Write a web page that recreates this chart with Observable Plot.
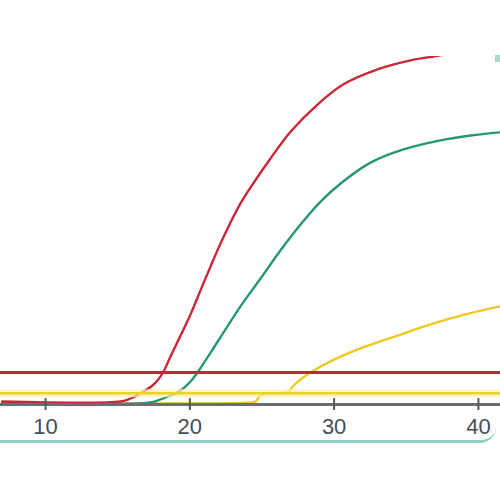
<!DOCTYPE html>
<html>
<head>
<meta charset="utf-8">
<script src="https://cdn.jsdelivr.net/npm/d3@7"></script>
<script src="https://cdn.jsdelivr.net/npm/@observablehq/plot@0.6"></script>
<style>
  html, body { margin: 0; padding: 0; background: #ffffff; }
  #wrap { position: relative; width: 500px; height: 500px; overflow: hidden; }
  #panel { position: absolute; left: -20px; top: 54px; width: 516px; height: 386px;
           border-bottom: 3px solid #93d2c2;
           border-radius: 0 14px 16px 16px; background: #ffffff; }
  #corner { position: absolute; left: 495px; top: 55px; width: 5px; height: 7px; background: #a6dccd; }
  #chart { position: absolute; left: 0; top: 0; }
</style>
</head>
<body>
<div id="wrap"><div id="panel"></div><div id="corner"></div><div id="chart"></div></div>
<script>
// Cycle numbers and fluorescence (relative units)
const redCycles   = [7, 15.2, 15.89, 16.79, 17.41, 17.76, 18.18, 18.66, 19.36, 20.05, 20.74, 21.44, 22.13, 22.82, 23.51, 24.21, 25.59, 26.98, 28.85, 30.65, 33.01, 35.3, 36.89, 39.45, 41.5];
const redValues   = [0.86, 0.86, 1.72, 3.74, 5.46, 6.9, 9.48, 13.8, 19.8, 25.9, 32.8, 39.7, 46.3, 52.3, 57.8, 62.4, 70.7, 78.4, 86.2, 92.0, 96.3, 98.9, 100.0, 101.7, 102.6];

const greenCycles = [7, 17.27, 17.97, 18.66, 19.36, 20.05, 20.53, 21.44, 22.34, 23.51, 24.9, 26.29, 27.67, 29.06, 30.45, 32.52, 34.81, 37.37, 39.45, 41.5];
const greenValues = [0.57, 0.57, 1.44, 2.59, 4.02, 6.61, 9.2, 14.9, 20.7, 28.2, 36.2, 44.3, 51.7, 58.3, 63.5, 69.5, 73.3, 75.9, 77.3, 78.2];

const yellowCycles = [7, 24.21, 24.55, 24.9, 25.38, 26.7, 27.19, 27.67, 28.36, 29.75, 31.83, 34.6, 36.89, 39.11, 41.5];
const yellowValues = [0.57, 0.57, 0.86, 2.59, 3.16, 3.3, 5.46, 7.18, 9.2, 12.4, 16.1, 20.1, 23.3, 25.9, 28.2];

const thresholdRed = 9.2;
const thresholdYellow = 3.25;
const xTicks = [10, 20, 30, 40];

const toRows = (cs, vs) => cs.map((c, i) => ({cycle: c, value: vs[i]}));
const red = toRows(redCycles, redValues);
const green = toRows(greenCycles, greenValues);
const yellow = toRows(yellowCycles, yellowValues);

const chart = Plot.plot({
  width: 500,
  height: 500,
  marginLeft: 0,
  marginRight: 0,
  marginTop: 56,
  marginBottom: 96,
  style: {background: "transparent", fontFamily: "'Liberation Sans', Arial, sans-serif"},
  x: {domain: [6.88, 41.53], axis: null, label: null},
  y: {domain: [0, 100], axis: null, label: null},
  marks: [
    Plot.line(yellow, {x: "cycle", y: "value", stroke: "#f0c81e", strokeWidth: 2.4, curve: "catmull-rom", clip: true}),
    Plot.line(green, {x: "cycle", y: "value", stroke: "#27986c", strokeWidth: 2.4, curve: "catmull-rom", clip: true}),
    Plot.line(red, {x: "cycle", y: "value", stroke: "#cc2638", strokeWidth: 2.4, curve: "catmull-rom", clip: true}),
    Plot.ruleY([thresholdYellow], {stroke: "#fbf2a8", strokeWidth: 8, strokeOpacity: 0.7}),
    Plot.ruleY([thresholdYellow], {stroke: "#ecd02c", strokeWidth: 2.5}),
    Plot.ruleY([thresholdRed], {stroke: "#bd2a35", strokeWidth: 3}),
    Plot.ruleY([0], {stroke: "#6a6e72", strokeWidth: 3}),
    Plot.ruleX(xTicks, {y1: -1.7, y2: 1.7, stroke: "#55595d", strokeWidth: 2}),
    Plot.axisX(xTicks, {tickSize: 6, tickPadding: 8, fontSize: 22, stroke: "#55595d", fill: "#4a4d50", label: null, tickFormat: d => String(d)})
  ]
});
document.getElementById("chart").appendChild(chart);
</script>
</body>
</html>
